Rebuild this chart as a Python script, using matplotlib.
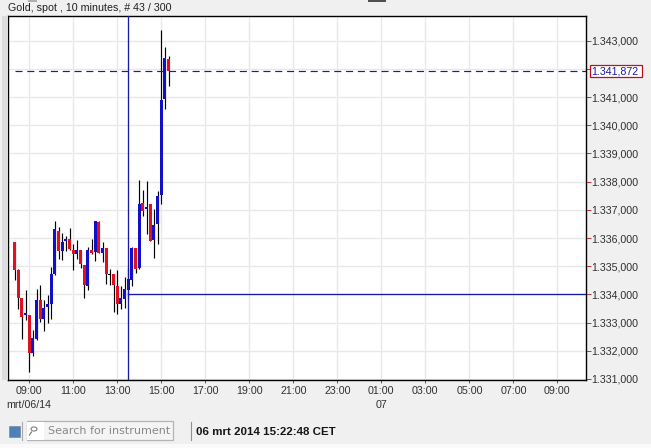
import matplotlib
matplotlib.use("Agg")
import matplotlib.pyplot as plt
from matplotlib.patches import Rectangle, Circle
from matplotlib.lines import Line2D
import numpy as np

W, H = 651, 448
plt.rcParams['font.family'] = ['Liberation Sans', 'DejaVu Sans']

# bar time: minutes since 00:00 on 6 March, 10 minute bars from 08:20
first_bar_minute = 500
bar_minutes = 10
top_prices = [1335.86,1334.87,1333.87,1333.34,1333.27,1332.45,1333.80,1333.80,1333.51,1333.66,
              1334.72,1336.31,1336.24,1335.85,1335.96,1335.96,1335.57,1335.57,1335.57,1335.04,
              1335.57,1335.57,1336.59,1336.56,1335.64,1335.64,1334.71,1334.72,1334.29,1333.87,
              1334.19,1334.54,1335.64,1335.64,1337.20,1337.23,1337.09,1337.20,1336.45,1337.48,
              1340.90,1342.38,1342.35]
bottom_prices = [1334.87,1333.88,1333.21,1333.28,1331.93,1331.93,1332.42,1333.14,1333.14,1333.56,
                 1333.66,1334.72,1335.54,1335.54,1335.89,1335.60,1335.43,1335.43,1335.07,1334.33,
                 1334.30,1335.46,1335.50,1335.46,1335.46,1334.72,1334.68,1334.33,1333.66,1333.66,
                 1333.83,1334.15,1334.51,1334.89,1334.93,1336.95,1337.02,1335.89,1335.92,1336.49,
                 1337.51,1340.94,1341.94]
high_prices = [1335.86,1334.89,1333.87,1334.15,1333.27,1332.73,1334.19,1334.33,1333.80,1333.97,
               1334.97,1336.59,1336.38,1336.19,1336.07,1336.35,1335.78,1335.92,1335.57,1335.04,
               1335.67,1335.96,1336.59,1336.59,1335.85,1335.64,1334.89,1334.72,1334.86,1334.30,
               1334.60,1334.93,1335.67,1335.64,1338.05,1337.69,1338.01,1337.20,1337.02,1337.65,
               1343.38,1342.77,1342.46]
low_prices = [1334.52,1333.48,1332.42,1333.10,1331.25,1331.83,1332.39,1333.03,1332.71,1332.98,
              1333.12,1334.68,1335.25,1335.21,1335.54,1335.58,1334.86,1335.25,1334.93,1333.87,
              1334.15,1335.43,1335.18,1335.46,1335.14,1334.36,1334.33,1333.37,1333.30,1333.48,
              1333.51,1333.83,1334.29,1334.75,1334.89,1336.77,1336.13,1335.89,1335.28,1335.78,
              1337.20,1340.59,1341.40]
bar_colors = list("rrrbrbbrbbbbrbbrrbrrbrbrbrkrrbbbbrbrbrbbbbr")

price_ticks = list(range(1331, 1344))
price_labels = ["1.331,000","1.332,000","1.333,000","1.334,000","1.335,000","1.336,000","1.337,000",
                "1.338,000","1.339,000","1.340,000","1.341,000","1.342,000","1.343,000"]
shown_price_labels = [l if l != "1.342,000" else "" for l in price_labels]
time_ticks = list(range(540, 1981, 120))
time_labels = ["09:00","11:00","13:00","15:00","17:00","19:00","21:00","23:00","01:00","03:00","05:00","07:00","09:00"]
cross_time = 810
cross_price = 1334.0
last_price_mark = 1341.92
last_price_label = "1.341,872"

BLUE = "#1010c8"; RED = "#e01020"; NAVY = "#1a1aa8"; BG = "#f0f0f0"
cmap = {"r": RED, "b": BLUE, "k": "black"}

fig = plt.figure(figsize=(W/100, H/100), dpi=100, facecolor=BG)
def frect(x, y, w, h, **kw):
    fig.add_artist(Rectangle((x/W, 1-(y+h)/H), w/W, h/H, transform=fig.transFigure, **kw))
def fline(xs, ys, **kw):
    fig.add_artist(Line2D([x/W for x in xs], [1-y/H for y in ys], transform=fig.transFigure, **kw))
def ftext(x, y, s, **kw):
    fig.text(x/W, 1-y/H, s, va="center", **kw)

L, R, T, B = 8, 586, 16, 379.5
ax = fig.add_axes([L/W, 1-B/H, (R-L)/W, (B-T)/H], facecolor="white")
ax.set_xlim(481.9, 2058)
ax.set_ylim(1330.98, 1343.876)
for s in ax.spines.values():
    s.set_color("black"); s.set_linewidth(1.0)
ax.set_axisbelow(True)
ax.grid(True, color="#e8e8e8", lw=1.0)
ax.yaxis.tick_right()
ax.set_xticks(time_ticks, labels=time_labels)
ax.set_yticks(price_ticks, labels=shown_price_labels)
ax.tick_params(axis="x", length=2, width=0.7, color="#c03030", pad=2.5, labelsize=7.7, labelcolor="#303030")
ax.tick_params(axis="y", length=3.5, width=0.7, color="#c03030", pad=0.3, labelsize=7.7, labelcolor="#303030")

x = first_bar_minute + bar_minutes*np.arange(len(top_prices))
ax.vlines(x, low_prices, high_prices, color="black", lw=0.85, zorder=3)
t = np.array(top_prices); b = np.array(bottom_prices)
ax.bar(x, t-b, bottom=b, width=8.2, color=[cmap[c] for c in bar_colors], lw=0, zorder=4)

ax.axvline(cross_time, color=NAVY, lw=0.95, zorder=5)
ax.plot([cross_time, 2058], [cross_price, cross_price], color=NAVY, lw=0.95, zorder=5)
ax.plot([500, 2058], [last_price_mark]*2, color=NAVY, lw=0.85, dashes=(6, 4), zorder=5)

# right side price flag
frect(589.5, 65.5, 52, 12, facecolor="white", edgecolor="#c01020", lw=0.9)
ftext(591.5, 71.5, last_price_label, color="#1a1aa8", fontsize=7.7)

# chart strip and window frame
frect(2, 16, 6, 364, facecolor="#dcdcdc", edgecolor="none")
frect(0, 444, W, 4, facecolor="#fafafa", edgecolor="none")
frect(28, 0, 9, 2, facecolor="#b0b0b0", edgecolor="none")
frect(368, 0, 18, 2, facecolor="#505050", edgecolor="none")

ftext(8, 8, "Gold, spot , 10 minutes, # 43 / 300", color="#202020", fontsize=7.7)
ftext(6, 404.5, "mrt/06/14", color="#303030", fontsize=7.7)
ftext(376, 404.5, "07", color="#303030", fontsize=7.7)

# status bar
frect(8.5, 425.5, 11, 11, facecolor="#5080b8", edgecolor="#7a8a9a", lw=0.5)
fline([22, 22], [422, 440], color="#a8a8a8", lw=0.8)
frect(26.5, 421, 146, 19, facecolor="#f4f4f4", edgecolor="#b4b4b4", lw=0.9)
frect(27, 421.5, 17, 18, facecolor="white", edgecolor="none")
fig.add_artist(Circle((34/W, 1-429/H), 3/W, transform=fig.transFigure, fill=False, ec="#707070", lw=0.7))
fline([31.5, 29.5], [432, 435], color="#707070", lw=0.8)
ftext(48, 431, "Search for instrument", color="#888888", fontsize=8.05, family=["DejaVu Sans"])
fline([191, 191], [422, 440], color="#909090", lw=0.8)
ftext(196, 431.5, "06 mrt 2014 15:22:48 CET", color="#151515", fontsize=8.25, fontweight="bold")

fig.savefig("out.png", dpi=100, facecolor=BG)
